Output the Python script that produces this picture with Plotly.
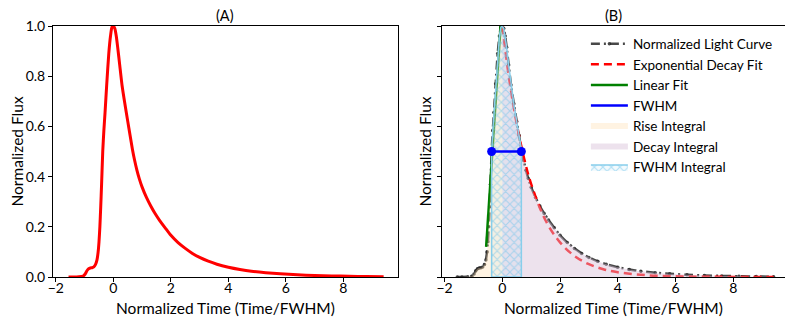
import plotly.graph_objects as go

# ---- data ----
curve_x = [-1.56, -1.40, -1.20, -1.05, -0.98, -0.92, -0.86, -0.80, -0.74, -0.68, -0.62,
           -0.57, -0.53, -0.50, -0.47, -0.44, -0.41, -0.37, -0.33, -0.29, -0.23, -0.16,
           -0.10, -0.05, 0.00, 0.05, 0.10, 0.15, 0.22, 0.30, 0.40, 0.50, 0.58, 0.66,
           0.74, 0.82, 0.90, 1.00, 1.15, 1.30, 1.45, 1.60, 1.80, 2.00, 2.25, 2.50,
           2.75, 3.00, 3.30, 3.60, 4.00, 4.40, 4.80, 5.30, 5.80, 6.40, 7.00, 7.60,
           8.20, 8.80, 9.40]
curve_y = [0.000, 0.000, 0.001, 0.004, 0.012, 0.025, 0.033, 0.036, 0.037, 0.040, 0.050,
           0.068, 0.100, 0.140, 0.200, 0.280, 0.370, 0.500, 0.585, 0.655, 0.770, 0.890,
           0.960, 0.995, 1.000, 0.990, 0.960, 0.915, 0.845, 0.765, 0.690, 0.620, 0.565, 0.510,
           0.464, 0.425, 0.392, 0.358, 0.317, 0.283, 0.253, 0.227, 0.196, 0.166, 0.137, 0.114,
           0.094, 0.078, 0.063, 0.051, 0.039, 0.030, 0.023, 0.017, 0.0125, 0.0088, 0.0062, 0.0043,
           0.0030, 0.0020, 0.0012]

fit_x = [0.00, 0.25, 0.50, 0.75, 1.00, 1.50, 2.00, 2.50, 3.00, 3.50, 4.00, 5.00, 6.00, 7.00, 8.00, 9.40]
fit_y = [1.000, 0.780, 0.610, 0.475, 0.370, 0.225, 0.138, 0.084, 0.051, 0.031, 0.019, 0.007, 0.003, 0.001, 0.0004, 0.0001]

lin_x = [-0.56, -0.06]
lin_y = [0.12, 1.00]

fwhm_x = [-0.37, 0.66]
fwhm_y = [0.50, 0.50]

peak_x = 0.0
x_ticks = [-2, 0, 2, 4, 6, 8]
x_ticktext = ["\u22122", "0", "2", "4", "6", "8"]
y_ticks = [0.0, 0.2, 0.4, 0.6, 0.8, 1.0]
y_ticktext = ["0.0", "0.2", "0.4", "0.6", "0.8", "1.0"]

# ---- derived regions (subsets of the light curve) ----
rise_x = [x for x in curve_x if x <= peak_x]
rise_y = [y for x, y in zip(curve_x, curve_y) if x <= peak_x]
decay_x = [x for x in curve_x if x >= peak_x]
decay_y = [y for x, y in zip(curve_x, curve_y) if x >= peak_x]
fw_x = [x for x in curve_x if fwhm_x[0] <= x <= fwhm_x[1]]
fw_y = [y for x, y in zip(curve_x, curve_y) if fwhm_x[0] <= x <= fwhm_x[1]]
fw_poly_x = [fw_x[0]] + fw_x + [fw_x[-1], fw_x[0]]
fw_poly_y = [0] + fw_y + [0, 0]

FONT = "Lato"
SM = 0.6
fig = go.Figure()

# Panel A
fig.add_trace(go.Scatter(x=curve_x, y=curve_y, mode="lines",
                         line=dict(color="red", width=3, shape="spline", smoothing=SM),
                         showlegend=False, xaxis="x", yaxis="y"))

# Panel B
fig.add_trace(go.Scatter(x=curve_x, y=curve_y, mode="lines+markers", name="Normalized Light Curve", legendrank=1,
                         line=dict(color="rgba(40,40,40,0.85)", width=2.5, dash="9px,4px,2px,4px", shape="spline", smoothing=SM),
                         marker=dict(size=3.5, color="rgba(40,40,40,0.85)"), xaxis="x2", yaxis="y2"))
fig.add_trace(go.Scatter(x=fit_x, y=fit_y, mode="lines", name="Exponential Decay Fit", legendrank=2,
                         line=dict(color="red", width=2.5, dash="8px,5px", shape="spline"), xaxis="x2", yaxis="y2"))
fig.add_trace(go.Scatter(x=lin_x, y=lin_y, mode="lines", name="Linear Fit", legendrank=3,
                         line=dict(color="green", width=2.5), xaxis="x2", yaxis="y2"))
fig.add_trace(go.Scatter(x=rise_x, y=rise_y, mode="none", name="Rise Integral", fill="tozeroy", legendrank=5,
                         fillcolor="rgba(255,222,173,0.35)", line=dict(shape="spline", smoothing=SM), xaxis="x2", yaxis="y2"))
fig.add_trace(go.Scatter(x=decay_x, y=decay_y, mode="none", name="Decay Integral", fill="tozeroy", legendrank=6,
                         fillcolor="rgba(216,191,216,0.45)", line=dict(shape="spline", smoothing=SM), xaxis="x2", yaxis="y2"))
fig.add_trace(go.Scatter(x=fw_poly_x, y=fw_poly_y, mode="lines", name="FWHM Integral", fill="toself", legendrank=7,
                         fillcolor="rgba(135,206,235,0.12)",
                         fillpattern=dict(shape="x", fgcolor="rgba(110,195,235,1)", bgcolor="rgba(135,206,235,0.10)",
                                          size=6, solidity=0.35),
                         line=dict(color="#87CEEB", width=1.5), xaxis="x2", yaxis="y2"))
fig.add_trace(go.Scatter(x=fwhm_x, y=fwhm_y, mode="lines", name="FWHM", legendrank=4,
                         line=dict(color="blue", width=2.5), xaxis="x2", yaxis="y2"))
fig.add_trace(go.Scatter(x=fwhm_x, y=fwhm_y, mode="markers", showlegend=False,
                         marker=dict(size=9, color="blue"), xaxis="x2", yaxis="y2"))

axis_common = dict(showline=True, linecolor="black", linewidth=1, mirror=True, ticks="outside",
                   ticklen=4, tickcolor="black", showgrid=False, zeroline=False,
                   tickfont=dict(family=FONT, size=14, color="black"), automargin=False)

TITLE_FONT = dict(family=FONT, size=15.5, color="black")
PANEL_FONT = dict(family=FONT, size=14.5, color="black")

fig.update_layout(
    width=785, height=317,
    margin=dict(l=45, r=7, t=18, b=48),
    paper_bgcolor="white", plot_bgcolor="white",
    font=dict(family=FONT, size=14, color="black"),
    xaxis=dict(domain=[0, 0.4707], range=[-2.10, 9.90], tickvals=x_ticks, ticktext=x_ticktext,
               ticklabelstandoff=-6, **axis_common),
    yaxis=dict(domain=[0, 1], range=[0, 1], tickvals=y_ticks, ticktext=y_ticktext,
               title=dict(text="Normalized Flux", font=TITLE_FONT, standoff=0), **axis_common),
    xaxis2=dict(domain=[0.5307, 1], range=[-2.09, 9.83], tickvals=x_ticks, ticktext=x_ticktext,
                anchor="y2", ticklabelstandoff=-6, **axis_common),
    yaxis2=dict(domain=[0, 1], range=[0, 1], tickvals=y_ticks, showticklabels=False, anchor="x2",
                title=dict(text="Normalized Flux", font=TITLE_FONT, standoff=1), **axis_common),
    legend=dict(x=0.727, y=0.99, xanchor="left", yanchor="top", bgcolor="rgba(255,255,255,0)",
                font=dict(family=FONT, size=13.5), tracegroupgap=0, itemwidth=37, traceorder="normal"),
    annotations=[
        dict(text="(A)", x=0.2353, y=1, xref="paper", yref="paper", xanchor="center", yanchor="middle",
             yshift=11, showarrow=False, font=PANEL_FONT),
        dict(text="(B)", x=0.7653, y=1, xref="paper", yref="paper", xanchor="center", yanchor="middle",
             yshift=11, showarrow=False, font=PANEL_FONT),
        dict(text="Normalized Time (Time/FWHM)", x=0.2353, y=0, xref="paper", yref="paper",
             xanchor="center", yanchor="middle", yshift=-31, showarrow=False, font=TITLE_FONT),
        dict(text="Normalized Time (Time/FWHM)", x=0.7653, y=0, xref="paper", yref="paper",
             xanchor="center", yanchor="middle", yshift=-31, showarrow=False, font=TITLE_FONT),
    ],
)

fig.write_html("out.html")
